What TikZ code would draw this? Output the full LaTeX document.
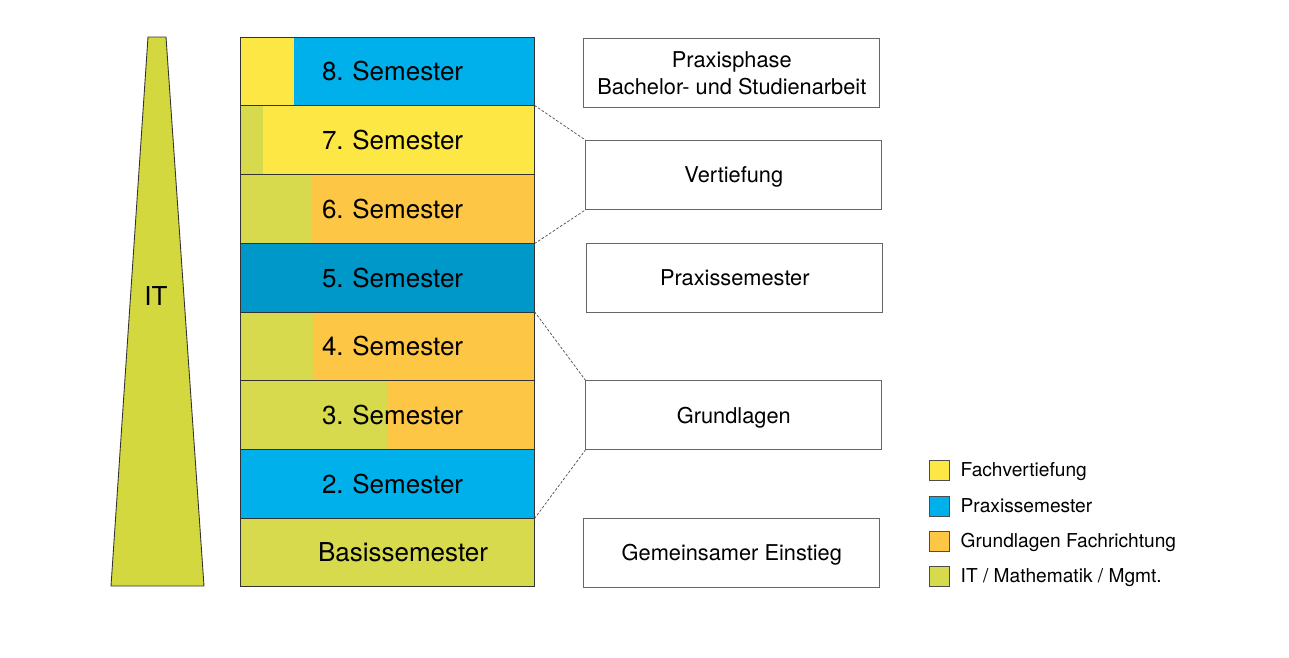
\documentclass[tikz,border=0pt]{standalone}
\usepackage{fontspec}
\setmainfont{TeX Gyre Heros}
\usetikzlibrary{positioning}

\definecolor{vertgelb}{HTML}{FDE744}
\definecolor{praxblau}{HTML}{00B0EA}
\definecolor{praxdunkel}{HTML}{0097C9}
\definecolor{grundorange}{HTML}{FDC645}
\definecolor{itgruen}{HTML}{D6DA4C}
\definecolor{keilgruen}{HTML}{D3D83F}

\tikzstyle{semester} = [rectangle, minimum width = 5.88cm, minimum height = 1.375cm, text width = 5.88cm, inner xsep = 0pt, align = left, draw = black!80, line width = 0.5pt, font = \fontsize{14.8}{17}\selectfont\frenchspacing, execute at begin node = {\hspace*{1.64cm}}]
\tikzstyle{phase} = [rectangle, minimum width = 5.92cm, minimum height = 1.38cm, text centered, draw = black!60, line width = 0.5pt, font = \fontsize{12.4}{15}\selectfont]
\tikzstyle{link} = [black!70, line width = 0.4pt, dash pattern = on 1.5pt off 1pt]
\tikzstyle{legendbox} = [rectangle, minimum size = 0.4cm, inner sep = 0pt, draw = black!70, line width = 0.4pt]
\tikzstyle{legendtext} = [right = 0.2cm, inner sep = 0pt, text height = 0.72em, text depth = 0pt, font = \fontsize{10.9}{13}\selectfont]
\tikzset{split/.style n args = {3}{fill = #3, path picture = {\fill[#1] (path picture bounding box.south west) rectangle ([xshift = #2] path picture bounding box.north west);}}}

\begin{document}
\begin{tikzpicture}[x = 0.02cm, y = -0.02cm, node distance = 1.375cm]
\useasboundingbox (0,0) rectangle (1289,657);

% IT wedge
\coordinate (k1) at (148,37);
\coordinate (k2) at (166,37);
\coordinate (k3) at (204,586);
\coordinate (k4) at (111,586);
\draw [fill = keilgruen, draw = black!80, line width = 0.5pt] (k1) -- (k2) -- (k3) -- (k4) -- cycle;
\node (it) at (156,296) [font = \fontsize{14.8}{17}\selectfont] {IT};

% semesters
\node (s8) at (387,71.4) [semester, split = {vertgelb}{1.08cm}{praxblau}] {8. Semester};
\node (s7) [semester, below of = s8, split = {itgruen}{0.46cm}{vertgelb}] {7. Semester};
\node (s6) [semester, below of = s7, split = {itgruen}{1.42cm}{grundorange}] {6. Semester};
\node (s5) [semester, below of = s6, fill = praxdunkel] {5. Semester};
\node (s4) [semester, below of = s5, split = {itgruen}{1.46cm}{grundorange}] {4. Semester};
\node (s3) [semester, below of = s4, split = {itgruen}{2.94cm}{grundorange}] {3. Semester};
\node (s2) [semester, below of = s3, fill = praxblau] {2. Semester};
\node (s1) [semester, below of = s2, fill = itgruen, execute at begin node = {\hspace*{-0.08cm}}] {Basissemester};

% phases
\node (praxis) [phase, right = 0.98cm of s8, align = center, yshift = -0.04cm] {Praxisphase\\Bachelor- und Studienarbeit};
\node (vert) [phase, right = 1.02cm of s7.south east, text depth = 0pt] {Vertiefung};
\node (prax) [phase, right = 1.04cm of s5, text depth = 0pt] {Praxissemester};
\node (grund) [phase, right = 1.02cm of s3, text depth = 0pt] {Grundlagen};
\node (einstieg) [phase, right = 0.98cm of s1, text depth = 0pt] {Gemeinsamer Einstieg};

\draw [link] (s7.north east) -- (vert.north west);
\draw [link] (s6.south east) -- (vert.south west);
\draw [link] (s4.north east) -- (grund.north west);
\draw [link] (s2.south east) -- (grund.south west);

% legend
\node (lg1) at (939,470.5) [legendbox, fill = vertgelb] {};
\node (lg2) at (939,506) [legendbox, fill = praxblau] {};
\node (lg3) at (939,541) [legendbox, fill = grundorange] {};
\node (lg4) at (939,576.5) [legendbox, fill = itgruen] {};
\node (lt1) [legendtext, right = 0.22cm of lg1] {Fachvertiefung};
\node (lt2) [legendtext, right = 0.22cm of lg2] {Praxissemester};
\node (lt3) [legendtext, right = 0.22cm of lg3] {Grundlagen Fachrichtung};
\node (lt4) [legendtext, right = 0.22cm of lg4] {IT / Mathematik / Mgmt.};

\end{tikzpicture}
\end{document}
